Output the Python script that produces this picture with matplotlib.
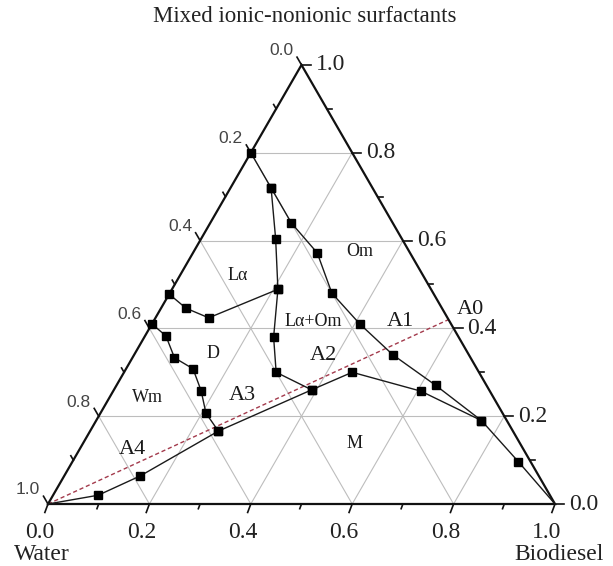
import numpy as np
import matplotlib.pyplot as plt

# compositions: b = biodiesel, s = surfactant, water = 1 - b - s
# outer Om boundary (left edge -> biodiesel corner)
om_b = [0.0, 0.08, 0.16, 0.245, 0.32, 0.41, 0.51, 0.63, 0.76, 0.88, 1.0]
om_s = [0.8, 0.72, 0.64, 0.572, 0.48, 0.41, 0.34, 0.27, 0.19, 0.096, 0.0]

# inner La / La+Om / M boundary
la_b = [0.08, 0.147, 0.209, 0.255, 0.30, 0.39, 0.45, 0.607, 0.76]
la_s = [0.72, 0.604, 0.489, 0.38, 0.30, 0.26, 0.30, 0.257, 0.19]

# curve from the water corner
wm_b = [0.0, 0.089, 0.15, 0.253, 0.39]
wm_s = [0.0, 0.02, 0.064, 0.166, 0.26]

# lower La boundary
lal_b = [0.209, 0.105, 0.049, 0.0]
lal_s = [0.489, 0.424, 0.446, 0.478]

# D region boundary
d_b = [0.0, 0.041, 0.083, 0.132, 0.173, 0.208, 0.253]
d_s = [0.41, 0.383, 0.333, 0.308, 0.258, 0.207, 0.166]

# dilution line water corner -> A0
a0_b = [0.0, 0.58]
a0_s = [0.0, 0.42]

ticks = [0.0, 0.2, 0.4, 0.6, 0.8, 1.0]
minor = [0.1, 0.3, 0.5, 0.7, 0.9]

SC = 507.0  # pixels per unit side


def tern(b, s):
    b = np.asarray(b, dtype=float)
    s = np.asarray(s, dtype=float)
    return b + s / 2, s * np.sqrt(3) / 2


def px(x, y):
    # pixel position of the reference -> data coords
    return (x - 48) / SC, (504 - y) / SC


serif = 'Liberation Serif'
sans = 'Liberation Sans'

fig = plt.figure(figsize=(6.13, 5.66), dpi=100)
ax = fig.add_axes([0, 0, 1, 1])
ax.set_xlim(-48 / SC, 565 / SC)
ax.set_ylim((504 - 566) / SC, 504 / SC)
ax.axis('off')

# grid
gc = '#bdbdbd'
for v in [0.2, 0.4, 0.6, 0.8]:
    x, y = tern([0, 1 - v], [v, v])
    ax.plot(x, y, color=gc, lw=0.8, zorder=1)
    x, y = tern([v, v], [0, 1 - v])
    ax.plot(x, y, color=gc, lw=0.8, zorder=1)
    x, y = tern([1 - v, 0], [0, 1 - v])
    ax.plot(x, y, color=gc, lw=0.8, zorder=1)

# triangle
x, y = tern([0, 1, 0, 0], [0, 0, 1, 0])
ax.plot(x, y, color='#111111', lw=1.6, zorder=3, solid_joinstyle='miter')

# ticks
d_left = np.array([-0.5, np.sqrt(3) / 2])
d_right = np.array([1.0, 0.0])
d_bot = np.array([-0.35, -0.94])
for vals, ln in [(ticks, 9 / SC), (minor, 5 / SC)]:
    for v in vals:
        # bottom (biodiesel)
        x0, y0 = tern(v, 0)
        ax.plot([x0, x0 + ln * d_bot[0]], [y0, y0 + ln * d_bot[1]], color='#111111', lw=1.2)
        # right (surfactant)
        x0, y0 = tern(1 - v, v)
        ax.plot([x0, x0 + ln * d_right[0]], [y0, y0 + ln * d_right[1]], color='#111111', lw=1.2)
        # left (water)
        x0, y0 = tern(0, 1 - v)
        ax.plot([x0, x0 + ln * d_left[0]], [y0, y0 + ln * d_left[1]], color='#111111', lw=1.2)

for v in ticks:
    x0, y0 = tern(v, 0)
    ax.text(x0 - 8 / SC, y0 - 28 / SC, f'{v:.1f}', fontsize=17, family=serif,
            ha='center', va='center', color='#222222')
    x0, y0 = tern(1 - v, v)
    ax.text(x0 + 14 / SC, y0, f'{v:.1f}', fontsize=17, family=serif,
            ha='left', va='center', color='#222222')
    x0, y0 = tern(0, 1 - v)
    ax.text(x0 - 8 / SC, y0 + 14 / SC, f'{v:.1f}', fontsize=12.5, family=sans,
            ha='right', va='center', color='#444444')

# dilution line
x, y = tern(a0_b, a0_s)
ax.plot(x, y, color='#a33a4c', lw=1.0, ls=(0, (3, 2)), zorder=2)

# phase boundaries
lk = dict(color='#1a1a1a', lw=1.0, marker='s', ms=6, mfc='black', mec='black', zorder=4)
x, y = tern(om_b, om_s)
ax.plot(x, y, markevery=list(range(len(om_b) - 1)), **lk)
x, y = tern(la_b, la_s)
ax.plot(x, y, **lk)
x, y = tern(wm_b, wm_s)
ax.plot(x, y, markevery=list(range(1, len(wm_b))), **lk)
x, y = tern(lal_b, lal_s)
ax.plot(x, y, **lk)
x, y = tern(d_b, d_s)
ax.plot(x, y, **lk)

# region labels
small = [('L\u03b1', 238, 275), ('Om', 360, 252), ('L\u03b1+Om', 313, 322),
         ('D', 213, 353), ('M', 355, 444), ('Wm', 147, 398)]
for t, xp, yp in small:
    ax.text(*px(xp, yp), t, fontsize=13, family=serif, ha='center', va='center', color='#1a1a1a')
big = [('A0', 470, 310), ('A1', 400, 321), ('A2', 323, 355), ('A3', 242, 395), ('A4', 132, 450)]
for t, xp, yp in big:
    ax.text(*px(xp, yp), t, fontsize=16, family=serif, ha='center', va='center', color='#1a1a1a')

ax.text(*px(42, 554), 'Water', fontsize=17, family=serif, ha='center', va='center', color='#222222')
ax.text(*px(559, 554), 'Biodiesel', fontsize=17, family=serif, ha='center', va='center', color='#222222')
ax.text(*px(305, 17), 'Mixed ionic-nonionic surfactants', fontsize=16.5, family=serif,
        ha='center', va='center', color='#222222')

fig.savefig('out.png', dpi=100)
